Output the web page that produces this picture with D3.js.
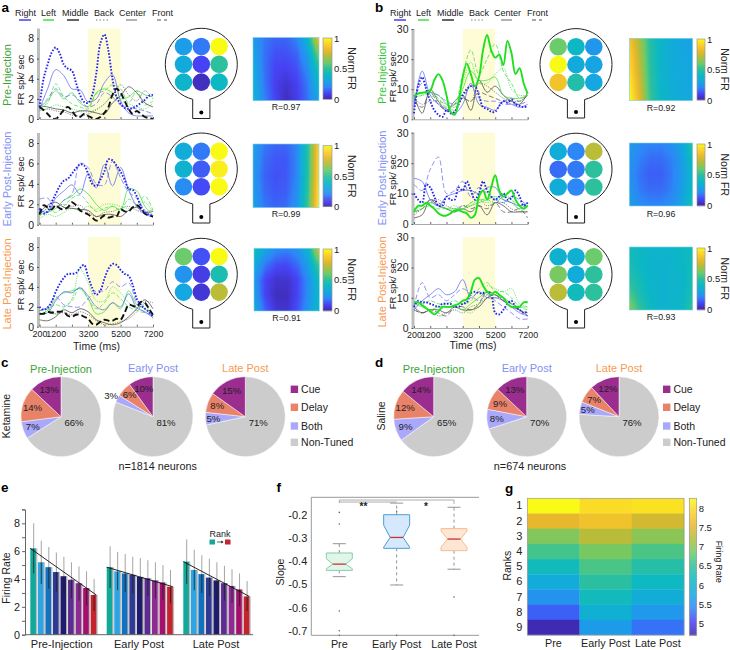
<!DOCTYPE html>
<html><head><meta charset="utf-8">
<script src="https://cdn.jsdelivr.net/npm/d3@7"></script>
<style>html,body{margin:0;padding:0;background:#fff}svg{display:block}text{font-family:"Liberation Sans",Arial,sans-serif;fill:#222}</style>
</head><body><svg id="c" width="730" height="650" viewBox="0 0 730 650"></svg>
<script>
// ---------- data ----------
const legendNames=["Right","Left","Middle","Back","Center","Front"];
const timeTicks=[200,1200,3200,5200,7200];
const shadeWindow=[3200,5200];
// a: ketamine traces
const a1BlueDot=[1.2,4.0,5.4,6.6,7.1,6.5,5.4,5.0,4.8,3.6,2.4,1.7,1.6,2.4,4.5,7.5,8.4,6.8,4.0,2.2,1.5,1.1,1.0,1.1,1.3,1.6,1.9,2.3,2.4];
const a1BlueThin=[1.0,3.0,4.9,4.3,3.0,2.9,1.7,2.0,3.6,4.4,1.8,0.6,0.3,0.3,0.3];
const a1BlueDash=[1.2,2.0,3.0,2.2,2.4,1.8,1.2,1.5,2.6,2.2,1.4,1.2,1.0,0.8,0.5];
const a1GreenThin=[1.2,1.8,2.8,2.0,2.6,1.6,1.2,2.6,3.0,2.6,2.0,2.2,2.8,2.4,2.2];
const a1GreenDash=[1.0,1.6,3.5,2.2,1.5,1.2,1.0,2.5,2.8,3.4,3.0,1.6,2.8,1.4,1.8];
const a1GreenDot=[0.9,1.0,1.4,1.2,1.0,0.8,0.7,1.0,1.5,2.4,1.8,1.5,1.2,1.0,1.6];
const a1BlackThick=[1.2,0.9,0.5,0.1,0,0.4,0.9,1.2,0.8,0.3,0.2,0.5,0.3,0.1,0,0.2,0.6,1.2,2.4,3.0,2.6,1.8,1.0,0.5,0.8,0.5,0.2,0.1,0];
const a1BlackThin=[1.3,1.2,1.0,0.9,0.6,0.8,0.8,0.6,0.5,1.6,2.3,3.2,2.6,1.6,1.2];
const a1GrayDot=[0.8,1.0,0.8,0.7,0.4,0.3,0.5,0.9,1.5,2.4,3.4,2.4,1.8,2.8,2.0];

const a2BlueDot=[1.6,1.1,1.3,2.2,3.0,3.8,4.3,4.5,5.0,5.5,5.9,5.8,5.0,4.0,3.8,4.4,5.2,6.4,6.3,5.8,5.2,4.4,3.5,3.4,2.8,1.8,1.2,1.0,0.9];
const a2BlueThin=[1.5,1.2,2.6,3.3,3.9,3.0,5.0,3.6,5.9,3.8,5.6,3.4,1.8,1.0,0.8];
const a2BlueDash=[2.5,2.6,1.6,2.4,3.0,6.0,5.6,4.0,3.9,6.2,4.6,3.2,2.6,1.4,0.7];
const a2GreenThin=[1.0,1.2,1.6,2.4,2.8,3.5,3.0,2.0,1.4,1.8,1.5,3.5,3.3,1.8,0.9];
const a2GreenDash=[0.8,1.6,1.2,1.8,2.6,2.9,2.1,1.3,1.6,1.8,1.4,2.5,2.0,2.8,1.4];
const a2GreenDot=[0.6,1.0,0.8,1.2,1.6,1.4,1.8,1.5,2.0,2.0,1.8,1.6,1.9,2.2,1.2];
const a2BlackThick=[1.0,1.9,1.7,1.5,1.9,1.6,1.5,1.7,2.2,1.9,1.4,1.2,1.0,0.7,0.4,0.6,0.9,0.7,0.8,0.8,1.5,1.3,1.3,1.7,1.9,1.6,1.1,0.9,0.8];
const a2BlackThin=[1.2,1.9,2.2,1.7,1.6,1.5,1.4,0.8,1.0,1.0,0.8,1.4,1.7,1.2,1.3];
const a2GrayDot=[1.0,1.6,1.8,2.0,1.8,1.9,1.2,0.8,1.2,1.3,1.6,1.8,1.4,1.2,1.5];

const a3BlueDot=[2.0,1.7,1.9,2.5,3.5,4.3,4.9,5.3,5.3,5.4,5.9,6.2,5.0,3.9,3.2,3.6,4.8,5.8,6.3,6.2,5.7,5.3,5.1,4.2,2.8,2.2,1.8,1.5,1.0];
const a3BlueThin=[1.3,1.4,2.6,3.5,3.4,3.9,3.1,2.0,1.7,2.4,2.0,3.3,1.9,1.5,0.9];
const a3BlueDash=[1.6,2.0,3.0,2.2,2.0,2.0,2.8,3.6,3.6,4.5,4.0,4.4,2.4,1.4,1.2];
const a3GreenThin=[1.2,1.6,2.8,3.4,3.6,3.8,2.8,1.3,1.5,2.4,1.8,3.6,2.2,1.8,1.0];
const a3GreenDash=[1.6,1.8,2.2,2.0,2.6,4.0,2.8,1.8,2.4,3.4,2.8,2.0,1.6,1.4,1.2];
const a3GreenDot=[1.0,1.6,1.2,1.9,2.8,5.8,4.4,2.6,2.6,4.0,3.4,2.4,1.8,2.2,0.8];
const a3BlackThick=[1.3,1.3,1.5,1.4,1.5,1.5,1.5,1.1,1.0,1.2,1.2,1.0,0.8,0.3,0.2,0.5,0.7,0.6,0.6,0.8,0.7,1.4,2.2,2.1,2.0,2.5,2.4,1.8,1.2];
const a3BlackThin=[0.7,0.6,1.0,1.7,1.4,1.8,1.5,0.7,0.4,0.2,0.4,1.0,1.8,2.7,1.8];
const a3GrayDot=[1.6,1.8,1.3,1.4,1.2,1.5,1.2,0.6,0.2,0.3,0.5,0.8,1.5,2.5,2.4];
// b: saline traces
const b1GreenThick=[7.5,8.5,8.8,9,9.5,13,15,13,8,2.5,1.5,6,14,18.5,15,11,14,23,28,23,20.5,21.5,18,26,22,15,17,12,8.5];
const b1BlueDot=[2,11,14,10,6,3,1.5,0.8,3,2,2.5,5,8,10,11,11,8,4,3.5,2.5,2.5,4.5,6,5.5,6.5,5,4.5,4,4.5];
const b1BlueThin=[4,16,8,5,3.5,2,5,12,5,4,3,6,5,4,5];
const b1BlueDash=[6,12,9,8,6,5,7,11,7,6,6,5,5,5,6];
const b1GreenThin=[8,9,9,8,5,3,10,16,13,13,14,8,7,7,8];
const b1GreenDash=[7,8,9,7,4,5,15,23,15,20,25,16,12,7,8];
const b1GreenDot=[7,8,8,6,4,5,12,19,12,12,15,17,10,8,8];
const b1BlackThin=[8,2,10,6,3,6,8,3,13,9,11,8,6,5,9];
const b1GrayDot=[7,5,6,6,5,4,7,6,12,11,9,7,6,6,8];
const b1BlackDash=[6,4,9,5,3,5,7,6,9,8,7,6,7,6,8];

const b2GreenThick=[4,6,6,7,6,5,3.5,2.8,2.8,3.5,4.5,4.5,4,3.5,2,3,9,11,8,12,16,11,9,10,11,8,6,5,6];
const b2BlueDot=[10,8,7,13,12,9,6,6,9,8,8,12,11,14,11,8,10,14,11,9,8,9,10,8,8.5,11,9,6,7];
const b2BlueThin=[15,14,8,6,9,10,11,11,10,12,12,8,7,6,7];
const b2BlueDash=[13,11,18,22,10,11,14,9,12,10,8,7,9,8,6];
const b2GreenThin=[5,6,7,6,5,5,5,6,7,8,9,8,7,5,7];
const b2GreenDash=[4,5,6,5,5,4,5,7,8,8,7,9,8,6,6];
const b2GreenDot=[5,5,7,6,5,6,5,7,8,7,8,10,8,5,6];
const b2BlackThin=[2,3,8,6,5,4,5,4,6,3,7,6,4,4,4];
const b2BlackDash=[4,5,8,7,5,4,6,5,6,5,7,4,4,5,2];
const b2GrayDot=[3,5,7,8,6,5,6,6,8,6,7,7,5,4,4];

const b3GreenThick=[8.5,8.5,7.5,6.5,5.5,4.5,5.5,7,7,7,7.5,8,9,9.5,12,16,16.5,14,12,11,12,11,10,8,7,7,7,8.5,8.5];
const b3BlueDot=[7,9,8.5,8.5,8,7.5,7,8,8,8,7,7,8,8.5,11.5,12,11.5,11.5,12,11,5,4.5,6,8,9,7,6,5,5.5];
const b3BlueThin=[6,9,11,13,11,12,16,10,12,10,10,9,7,5,4];
const b3BlueDash=[7,15,10,11,9,11,13,11,9,11,9,7,5,3,3];
const b3GreenThin=[8,7,6,7,7,7,6,8,10,12,11,10,8,7,7];
const b3GreenDash=[8,8,9,8,8,9,8,9,13,15,12,12,10,7,6];
const b3GreenDot=[9,8,6,6,7,7,6,5,8,14,13,12,13,8,7];
const b3BlackThin=[7,5,6,6,5,7,6,6,7,10,11,9,7,6,4];
const b3BlackDash=[6,5,6,5,4,7,7,6,8,12,11,9,8,6,4];
const b3GrayDot=[6,5,6,4,5,6,5,7,8,10,10,10,8,6,5];
// arena target firing (3x3, normalised)
const a1Targets=[.27,.18,1,.32,.1,.5,.38,.03,.4];
const a2Targets=[.33,.18,1,.36,.14,.97,.22,.11,1];
const a3Targets=[.6,.12,1,.24,.08,.45,.3,.06,.72];
const b1Targets=[.6,.4,.25,1,.32,.29,.85,.47,.3];
const b2Targets=[.33,.2,.72,.16,.18,.5,.33,.2,.5];
const b3Targets=[.36,.35,.6,.62,.33,.5,.72,.42,.5];
// fitted surfaces (5 rows x 7 cols)
const a1Surface=[.26,.18,.15,.15,.2,.38,.85, .29,.17,.12,.12,.15,.28,.62, .32,.17,.1,.09,.12,.22,.45, .34,.18,.09,.05,.09,.18,.36, .36,.2,.1,.03,.08,.17,.3];
const a2Surface=[.28,.18,.15,.15,.2,.48,.9, .26,.16,.13,.13,.2,.48,.92, .25,.15,.12,.13,.2,.48,.93, .26,.16,.13,.14,.22,.5,.95, .28,.18,.15,.16,.24,.52,.97];
const a3Surface=[.45,.3,.22,.2,.24,.38,.8, .33,.18,.12,.11,.16,.28,.55, .25,.1,.05,.05,.1,.22,.42, .27,.1,.03,.03,.1,.22,.38, .33,.15,.06,.05,.12,.25,.4];
const b1Surface=[.85,.67,.47,.38,.33,.3,.28, .9,.7,.48,.38,.33,.3,.29, .93,.72,.49,.38,.33,.31,.3, .97,.75,.5,.38,.34,.31,.3, 1,.78,.52,.39,.35,.32,.31];
const b2Surface=[.26,.22,.2,.2,.23,.3,.5, .24,.19,.16,.16,.19,.27,.42, .23,.17,.14,.14,.18,.26,.38, .25,.18,.16,.16,.19,.27,.4, .28,.22,.2,.2,.23,.3,.46];
const b3Surface=[.42,.4,.38,.38,.38,.4,.42, .44,.4,.37,.36,.37,.39,.43, .48,.42,.38,.36,.37,.38,.44, .55,.45,.39,.36,.37,.38,.46, .65,.5,.41,.37,.37,.39,.5];
// pies
const tuningLabels=["Cue","Delay","Both","Non-Tuned"];
const epochTitles=["Pre-Injection","Early Post","Late Post"];
const ketaminePies=[[13,14,7,66],[10,6,3,81],[15,8,5,71]];
const salinePies=[[14,12,9,65],[13,9,8,70],[12,7,5,76]];
// bars
const barEpochs=["Pre-Injection","Early Post","Late Post"];
const barMeans=[[6.2,5.2,4.85,4.5,4.2,3.95,3.7,3.35,2.85],[4.85,4.55,4.4,4.3,4.15,4.05,3.9,3.75,3.45],[5.25,4.65,4.35,4.1,3.9,3.7,3.5,3.25,2.75]];
const barHigh=[[8,6.75,6.3,5.9,5.6,5.2,4.9,4.55,4.0],[6.35,5.95,5.8,5.6,5.5,5.35,5.2,5.0,4.65],[6.85,6.1,5.7,5.45,5.2,4.95,4.7,4.4,3.85]];
const barLow=[[4.4,3.65,3.3,3.05,2.9,2.6,2.45,2.1,1.7],[3.35,3.2,3.05,2.95,2.85,2.75,2.6,2.5,2.25],[3.65,3.2,3.0,2.8,2.6,2.45,2.3,2.05,1.7]];
const rankColors=["#12a99b","#2ca5e2","#1272bf","#2f3a96","#1f1c6e","#5c2d91","#8e2b93","#a50f6e","#c5242f"];
// box plot (whiskLow,q1,notchLow,median,notchHigh,q3,whiskHigh)
const boxNames=["Pre","Early Post","Late Post"];
const boxStats=[[-.467,-.44,-.433,-.413,-.39,-.365,-.325],[-.503,-.345,-.34,-.298,-.245,-.2,-.15],[-.435,-.355,-.34,-.305,-.27,-.26,-.168]];
const boxOutliers=[[-.19,-.24,-.615,-.7,-.72],[-.185,-.72],[-.555,-.72]];
const boxFill=["#dff6e8","#d6e8fb","#fde6d4"];
const boxStroke=["#86cfa8","#4a9fd8","#f5bd93"];
// rank heatmap
const rankLabels=[1,2,3,4,5,6,7,8,9];
const rankPre=[8.25,7.55,6.95,6.6,6.2,5.85,5.55,5.2,4.75];
const rankEarly=[8.0,7.7,7.25,6.9,6.65,6.45,6.2,5.95,5.65];
const rankLate=[8.05,7.4,7.0,6.65,6.4,6.15,5.9,5.6,5.3];
const rankCbTicks=[5,5.5,6,6.5,7,7.5,8];
// colour map
const parulaStops=["#3e26a8","#4743f5","#2d87f7","#14a7e0","#0cb8c4","#2cc09d","#6ccb6b","#b0bd3b","#e8b82c","#fbd02c","#f9fb15"];
const parula=d3.scaleLinear().domain(d3.range(11).map(d=>d/10)).range(parulaStops).clamp(true);

// ---------- helpers ----------
const svg=d3.select("#c");
function txt(x,y,s,o={}){const t=svg.append("text").attr("x",x).attr("y",y).text(s)
  .attr("font-size",o.size||10.5).attr("text-anchor",o.anchor||"start");
  if(o.fill)t.style("fill",o.fill); if(o.bold)t.attr("font-weight","bold");
  if(o.rot!==undefined)t.attr("transform",`rotate(${o.rot} ${x} ${y})`);
  return t;}
const STY={
 blueDot:{c:"#2222ee",w:1.9,d:"1.6 1.6"},blueThin:{c:"#5a68f0",w:.75},blueDash:{c:"#6a6cf2",w:.75,d:"5 2.5"},
 greenThick:{c:"#1fe01f",w:1.9},greenThin:{c:"#3fe03f",w:.75},greenDash:{c:"#45de45",w:.75,d:"4 2"},greenDot:{c:"#4fe04f",w:.8,d:"1.2 1.2"},
 blackThick:{c:"#111",w:1.9,d:"6 3"},blackThin:{c:"#444",w:.75},blackDash:{c:"#555",w:.75,d:"5 2.5"},grayDot:{c:"#666",w:.75,d:"1.2 1.2"}};
const letters=[["a",1.5,12],["b",375,12],["c",1,367],["d",375,367],["e",1,492],["f",276.5,492],["g",505,493]];
letters.forEach(l=>txt(l[1],l[2],l[0],{size:13.5,bold:true,fill:"#000"}));

// legends
function legend(dx){
  const textX=[15,41,62,94,119,152], lx=[[19,31],[43,54],[67,79],[96,109],[126,137],[157,167]];
  const st=[{c:"#2222ee",w:1.3},{c:"#22dd22",w:1.3},{c:"#111",w:1.3},{c:"#777",w:.9,d:"1.5 2"},{c:"#666",w:1},{c:"#555",w:1,d:"4 3"}];
  legendNames.forEach((n,i)=>{
    txt(textX[i]+dx,16,n,{size:9});
    svg.append("line").attr("x1",lx[i][0]+dx).attr("x2",lx[i][1]+dx).attr("y1",20).attr("y2",20)
      .attr("stroke",st[i].c).attr("stroke-width",st[i].w).attr("stroke-dasharray",st[i].d||null);
  });
}
legend(0);legend(375);

// trace panel
function tracePanel(o){
  const x=d3.scaleLinear().domain([200,7200]).range([o.x0,o.x1]);
  const y=d3.scaleLinear().domain([0,o.ymax]).range([o.y0,o.y1]);
  const g=svg.append("g");
  g.append("rect").attr("x",x(shadeWindow[0])).attr("width",x(shadeWindow[1])-x(shadeWindow[0]))
    .attr("y",o.y1-(o.extra||0)).attr("height",o.y0-o.y1+(o.extra||0)).attr("fill","#fdfcd6");
  g.append("rect").attr("x",o.x0-2.5).attr("width",3).attr("y",o.y1-(o.extra||0)).attr("height",o.y0-o.y1+(o.extra||0)).attr("fill","#bdbdbd");
  const line=d3.line().curve(d3.curveCatmullRom.alpha(.5));
  o.series.forEach(([sty,vals])=>{
    const s=STY[sty];
    const pts=vals.map((v,i)=>[x(200+i*7000/(vals.length-1)),y(Math.max(0,v))]);
    g.append("path").attr("d",line(pts)).attr("fill","none").attr("stroke",s.c).attr("stroke-width",s.w)
      .attr("stroke-dasharray",s.d||null);
  });
  const ay=g.append("g").attr("transform",`translate(${o.x0-2.5},0)`).call(d3.axisLeft(y).tickValues(o.ticks).tickSize(-2).tickPadding(3));
  ay.select(".domain").remove();
  ay.selectAll("line").attr("stroke","#555");
  ay.selectAll("text").attr("font-size",10.5).attr("font-family",null);
  const ax=g.append("g").attr("transform",`translate(0,${o.y0})`).call(d3.axisBottom(x).tickValues(timeTicks.concat(d3.range(2200,7200,2000))).tickSize(-2).tickFormat(d=>d).tickPadding(4));
  ax.select(".domain").attr("stroke","#aaa").attr("stroke-width",1);
  ax.selectAll("line").attr("stroke","#666");
  ax.selectAll("text").attr("font-size",8.9).attr("font-family",null);
  ax.selectAll("text").filter(d=>!o.showX||!timeTicks.includes(d)).remove();
}
const aSeries=(bd,bt,bdh,gt,gdh,gdt,kd,kt,gy)=>[["grayDot",gy],["greenDot",gdt],["greenDash",gdh],["greenThin",gt],["blackThin",kt],["blueDash",bdh],["blueThin",bt],["blackThick",kd],["blueDot",bd]];
const bSeries=(gth,bd,bt,bdh,gt,gdh,gdt,kt,kd,gy)=>[["grayDot",gy],["blackDash",kd],["blackThin",kt],["greenDot",gdt],["greenDash",gdh],["greenThin",gt],["blueDash",bdh],["blueThin",bt],["blueDot",bd],["greenThick",gth]];
const aTicks=[0,2,4,6,8], bTicks=[0,10,20,30];
tracePanel({x0:39.5,x1:153,y0:119,y1:38.5,ymax:8,extra:10,ticks:aTicks,series:aSeries(a1BlueDot,a1BlueThin,a1BlueDash,a1GreenThin,a1GreenDash,a1GreenDot,a1BlackThick,a1BlackThin,a1GrayDot)});
tracePanel({x0:39.5,x1:153,y0:224.7,y1:143,ymax:8,extra:10,ticks:aTicks,series:aSeries(a2BlueDot,a2BlueThin,a2BlueDash,a2GreenThin,a2GreenDash,a2GreenDot,a2BlackThick,a2BlackThin,a2GrayDot)});
tracePanel({x0:39.5,x1:153,y0:326.7,y1:247,ymax:8,extra:10,ticks:aTicks,showX:true,series:aSeries(a3BlueDot,a3BlueThin,a3BlueDash,a3GreenThin,a3GreenDash,a3GreenDot,a3BlackThick,a3BlackThin,a3GrayDot)});
tracePanel({x0:414,x1:527.7,y0:119.3,y1:29,ymax:30,ticks:bTicks,series:bSeries(b1GreenThick,b1BlueDot,b1BlueThin,b1BlueDash,b1GreenThin,b1GreenDash,b1GreenDot,b1BlackThin,b1BlackDash,b1GrayDot)});
tracePanel({x0:414,x1:527.7,y0:224,y1:132.7,ymax:30,ticks:bTicks,series:bSeries(b2GreenThick,b2BlueDot,b2BlueThin,b2BlueDash,b2GreenThin,b2GreenDash,b2GreenDot,b2BlackThin,b2BlackDash,b2GrayDot)});
tracePanel({x0:414,x1:527.7,y0:328,y1:237.3,ymax:30,ticks:bTicks,showX:true,series:bSeries(b3GreenThick,b3BlueDot,b3BlueThin,b3BlueDash,b3GreenThin,b3GreenDash,b3GreenDot,b3BlackThin,b3BlackDash,b3GrayDot)});
// panel labels
const GR="#3aa535",GR2="#35c935",BL="#7f90f5",OR="#f79a50";
[[11,75,"Pre-Injection",GR],[11,179,"Early Post-Injection",BL],[11,284,"Late Post-Injection",OR],[385.5,73,"Pre-Injection",GR2],[385.5,178,"Early Post-Injection",BL],[385.5,282,"Late Post-Injection",OR]]
 .forEach(d=>txt(d[0],d[1],d[2],{size:11,anchor:"middle",rot:-90,fill:d[3]}));
[[24,80],[24,182],[24,285],[395.5,77],[395.5,180],[395.5,284]].forEach(d=>txt(d[0],d[1],"FR spk/ sec",{size:9.6,anchor:"middle",rot:-90}));
txt(96.5,349.5,"Time (ms)",{size:10.5,anchor:"middle"});
txt(473,349,"Time (ms)",{size:10.5,anchor:"middle"});

// arenas
function arena(cx,cy,vals,bottom){
  const r=36,nw=8.6,a=Math.asin(nw/r),sy=cy+r*Math.cos(a);
  const p=d3.path();
  p.moveTo(cx-nw,sy);p.arc(cx,cy,r,Math.PI/2+a,Math.PI/2-a+2*Math.PI);
  p.lineTo(cx+nw,bottom);p.lineTo(cx-nw,bottom);p.closePath();
  svg.append("path").attr("d",p.toString()).attr("fill","#fff").attr("stroke","#222").attr("stroke-width",1);
  const gx=d3.scalePoint().domain([0,1,2]).range([cx-17.8,cx+17.8]);
  svg.append("g").selectAll("circle").data(vals).join("circle")
    .attr("cx",(d,i)=>gx(i%3)).attr("cy",(d,i)=>cy+gx(Math.floor(i/3))-cx).attr("r",8.8).attr("fill",d=>parula(d));
  svg.append("circle").attr("cx",cx).attr("cy",bottom-6).attr("r",2).attr("fill","#000");
}
arena(201.3,64.3,a1Targets,118.5);arena(201.3,169,a2Targets,223);arena(201.3,274.3,a3Targets,328);
arena(576,64.6,b1Targets,118);arena(576,169.2,b2Targets,223);arena(576,274.5,b3Targets,328);

// surfaces
function surface(xx,yy,w,h,vals){
  const cv=document.createElement("canvas");cv.width=Math.round(w);cv.height=Math.round(h);
  const c=cv.getContext("2d");
  const lerp=(a,b,t)=>a+(b-a)*t;
  for(let j=0;j<cv.height;j++)for(let i=0;i<cv.width;i++){
    const u=i/(cv.width-1)*6,v=j/(cv.height-1)*4,u0=Math.min(5,Math.floor(u)),v0=Math.min(3,Math.floor(v)),fu=u-u0,fv=v-v0;
    const at=(r,q)=>vals[r*7+q];
    const val=lerp(lerp(at(v0,u0),at(v0,u0+1),fu),lerp(at(v0+1,u0),at(v0+1,u0+1),fu),fv);
    c.fillStyle=parula(val);c.fillRect(i,j,1,1);
  }
  svg.append("image").attr("href",cv.toDataURL()).attr("x",xx).attr("y",yy).attr("width",w).attr("height",h).attr("preserveAspectRatio","none");
}
function colorbar(x0,x1,y0,y1,dom,ticks,fmt,colorOf,size){
  const g=svg.append("g");
  const y=d3.scaleLinear().domain(dom).range([y1,y0]);
  const n=Math.round(y1-y0);
  g.selectAll("rect").data(d3.range(n)).join("rect").attr("x",x0).attr("width",x1-x0).attr("y",d=>y0+d).attr("height",1.2)
    .attr("fill",d=>colorOf(y.invert(y0+d+.5)));
  g.append("rect").attr("x",x0).attr("y",y0).attr("width",x1-x0).attr("height",y1-y0).attr("fill","none").attr("stroke","#999").attr("stroke-width",.7);
  const a=svg.append("g").attr("transform",`translate(${x1},0)`).call(d3.axisRight(y).tickValues(ticks).tickSize(0).tickPadding(2).tickFormat(fmt));
  a.select(".domain").remove();a.selectAll("text").attr("font-size",size).attr("font-family",null);
}
const normMaps=[[253,319,37.5,100.7,a1Surface,107,38,99.3],[253,319,144,207.7,a2Surface,214,145.7,206.7],[254,319.3,248.3,311,a3Surface,318,249,310.7],
 [629.3,692.7,38.3,100.7,b1Surface,108,39,100],[629.3,692.7,143,206,b2Surface,214,144,205.5],[629.3,692.7,247,310,b3Surface,317,248,309.5]];
const rVals=["R=0.97","R=0.99","R=0.91","R=0.92","R=0.96","R=0.93"];
normMaps.forEach((m,i)=>{
  surface(m[0],m[2],m[1]-m[0],m[3]-m[2],m[4]);
  svg.append("rect").attr("x",m[0]).attr("y",m[2]).attr("width",m[1]-m[0]).attr("height",m[3]-m[2]).attr("fill","none").attr("stroke","#7fd0e8").attr("stroke-width",.6);
  const left=i<3;
  const bx=left?323:697, bw=left?9:8;
  colorbar(bx,bx+bw,m[6],m[7],[0,1],[0,.5,1],d=>d,parula,9.5);
  txt((m[0]+m[1])/2,m[5]+3,rVals[i],{size:8.8,anchor:"middle"});
  const lx=left?348:720.5;
  txt(lx,(m[6]+m[7])/2,"Norm FR",{size:10.5,anchor:"middle",rot:90});
});

// pies
const tuningColors=["#9a2d8e","#e8836a","#a9a8fb","#cccccc"];
function pieGroup(cxs,cy,data,titleColors,tOff){
  const pie=d3.pie().sort(null);
  const arc=d3.arc().innerRadius(0).outerRadius(40);
  data.forEach((vals,k)=>{
    const g=svg.append("g").attr("transform",`translate(${cxs[k]},${cy})`);
    const arcs=pie(vals.slice().reverse()); // clockwise: non-tuned first
    const rev=[3,2,1,0];
    arcs.forEach((a,i)=>{
      g.append("path").attr("d",arc(a)).attr("fill",tuningColors[rev[i]]).attr("stroke","#fff").attr("stroke-width",.5);
      const ti=rev[i],mid=(a.startAngle+a.endAngle)/2;
      let lx,ly;
      if(ti===3){lx=13;ly=9.5;}
      else{const rr=vals[ti]<=3?47:(vals[ti]<=6?32:30);lx=Math.sin(mid)*rr;ly=-Math.cos(mid)*rr+3.5;}
      g.append("text").attr("x",lx).attr("y",ly).attr("text-anchor","middle").attr("font-size",9.6).text(vals[ti]+"%");
    });
    txt(cxs[k],cy-tOff[k],epochTitles[k],{size:11,anchor:"middle",fill:titleColors[k]});
  });
}
pieGroup([61,153,245.3],416.7,ketaminePies,[GR,BL,OR],[44,45,45]);
pieGroup([433.7,526.7,619],416.7,salinePies,[GR,BL,OR],[44,44.7,44.7]);
[290.7,663].forEach(lx=>{
  [389.3,407.3,426,442.3].forEach((yy,i)=>{
    svg.append("rect").attr("x",lx).attr("y",yy-3.7).attr("width",7.4).attr("height",7.4).attr("fill",tuningColors[i]);
    txt(lx+10.4,yy+3.7,tuningLabels[i],{size:10.5});
  });
});
txt(9.5,416,"Ketamine",{size:10.5,anchor:"middle",rot:-90});
txt(385,416,"Saline",{size:10.5,anchor:"middle",rot:-90});
txt(157.7,470,"n=1814 neurons",{size:10.8,anchor:"middle"});
txt(530,470,"n=674 neurons",{size:10.8,anchor:"middle"});

// bars (e)
(function(){
  const y=d3.scaleLinear().domain([0,8]).range([634.7,523.3]);
  const starts=[30.3,106.7,183.3],step=7.55,bw=5.6;
  const x=d3.scaleLinear().domain([0,1]).range([0,step]);
  const g=svg.append("g");
  barMeans.forEach((vals,k)=>{
    vals.forEach((v,i)=>{
      const bx=starts[k]+x(i);
      g.append("rect").attr("x",bx+bw-1).attr("width",2.4).attr("y",y(v)).attr("height",y(0)-y(v)).attr("fill","#bbb");
      g.append("rect").attr("x",bx).attr("width",bw).attr("y",y(v)).attr("height",y(0)-y(v)).attr("fill",rankColors[i]);
      g.append("line").attr("x1",bx+bw/2+.6).attr("x2",bx+bw/2+.6).attr("y1",y(barHigh[k][i])).attr("y2",y(v)).attr("stroke","#9a9a9a").attr("stroke-width",.9);
      g.append("line").attr("x1",bx+bw/2+.6).attr("x2",bx+bw/2+.6).attr("y1",y(v)).attr("y2",y(barLow[k][i])).attr("stroke","#222").attr("stroke-width",.8);
    });
    g.append("line").attr("x1",starts[k]).attr("x2",starts[k]+x(8)+bw).attr("y1",y(vals[0])).attr("y2",y(vals[8])).attr("stroke","#111").attr("stroke-width",.9);
    txt([61.7,139,216][k],648,barEpochs[k],{size:11,anchor:"middle"});
  });
  const a=svg.append("g").attr("transform","translate(25,0)").call(d3.axisLeft(d3.scaleLinear().domain([0,9]).range([y(0),y(9)])).tickValues(d3.range(0,10)).tickSize(3).tickFormat(d=>d%2==0?d:"").tickPadding(2));
  a.select(".domain").attr("stroke","#666");a.selectAll("line").attr("stroke","#666");a.selectAll("text").attr("font-size",10.8).attr("font-family",null);
  a.selectAll("text").filter(d=>d%2!=0).remove();
  g.append("line").attr("x1",25).attr("x2",253).attr("y1",y(0)).attr("y2",y(0)).attr("stroke","#666").attr("stroke-width",1);
  txt(9.5,578,"Firing Rate",{size:10.5,anchor:"middle",rot:-90});
  txt(220,537,"Rank",{size:9,anchor:"middle"});
  g.append("rect").attr("x",209.5).attr("y",539.5).attr("width",5.5).attr("height",5).attr("fill",rankColors[0]);
  g.append("rect").attr("x",225).attr("y",539.5).attr("width",5.5).attr("height",5).attr("fill",rankColors[8]);
  g.append("line").attr("x1",217).attr("x2",223).attr("y1",542).attr("y2",542).attr("stroke","#222").attr("stroke-width",.7);
  g.append("path").attr("d","M223.5 542l-2.2-1.4v2.8z").attr("fill","#222");
})();

// box (f)
(function(){
  const y=d3.scaleLinear().domain([-.2,-.7]).range([514.7,630.7]);
  const x=d3.scalePoint().domain(boxNames).range([339.3,454]);
  const g=svg.append("g");
  g.append("path").attr("d","M311.3 497.3H479M311.3 497.3V635.3H479").attr("fill","none").attr("stroke","#999").attr("stroke-width",1);
  const a=svg.append("g").attr("transform","translate(311.3,0)").call(d3.axisLeft(y).tickValues([-.2,-.3,-.4,-.5,-.6,-.7]).tickSize(0).tickPadding(4));
  a.select(".domain").remove();a.selectAll("text").attr("font-size",11).attr("font-family",null).text(d=>d.toFixed(1));
  boxStats.forEach((s,i)=>{
    const c=x(boxNames[i]),hw=13,nw=6.5;
    const [wl,q1,nl,m,nh,q3,wh]=s;
    g.append("line").attr("x1",c).attr("x2",c).attr("y1",y(q3)).attr("y2",y(wh)).attr("stroke","#777").attr("stroke-width",.8).attr("stroke-dasharray","3 3");
    g.append("line").attr("x1",c).attr("x2",c).attr("y1",y(q1)).attr("y2",y(wl)).attr("stroke","#777").attr("stroke-width",.8).attr("stroke-dasharray","3 3");
    [wl,wh].forEach(v=>g.append("line").attr("x1",c-6.5).attr("x2",c+6.5).attr("y1",y(v)).attr("y2",y(v)).attr("stroke","#666").attr("stroke-width",.7));
    const pts=[[c-hw,y(q3)],[c+hw,y(q3)],[c+hw,y(nh)],[c+nw,y(m)],[c+hw,y(nl)],[c+hw,y(q1)],[c-hw,y(q1)],[c-hw,y(nl)],[c-nw,y(m)],[c-hw,y(nh)]];
    g.append("path").attr("d",d3.line()(pts)+"Z").attr("fill",boxFill[i]).attr("stroke",boxStroke[i]).attr("stroke-width",1);
    g.append("line").attr("x1",c-nw).attr("x2",c+nw).attr("y1",y(m)).attr("y2",y(m)).attr("stroke","#c8323c").attr("stroke-width",1.3);
    boxOutliers[i].forEach(v=>g.append("circle").attr("cx",c).attr("cy",y(v)).attr("r",.8).attr("fill","#666"));
    txt(c,648,boxNames[i],{size:10.8,anchor:"middle"});
  });
  g.append("path").attr("d","M339.3 503V500H454V504M339.3 502H396.7").attr("fill","none").attr("stroke","#999").attr("stroke-width",.8);
  txt(363.5,509.5,"**",{size:10,anchor:"middle",bold:true});
  txt(426,509.5,"*",{size:10,anchor:"middle",bold:true});
  txt(284,572,"Slope",{size:10.5,anchor:"middle",rot:-90});
})();

// rank heatmap (g)
(function(){
  const x=d3.scaleBand().domain(boxNames).range([527.3,684]);
  const y=d3.scaleBand().domain(rankLabels).range([498.3,635]);
  const dom=[4.7,8.26];
  const col=v=>parula((v-dom[0])/(dom[1]-dom[0]));
  const g=svg.append("g");
  [rankPre,rankEarly,rankLate].forEach((vals,k)=>{
    g.selectAll(null).data(vals).join("rect").attr("x",x(boxNames[k])).attr("width",x.bandwidth()+.3)
      .attr("y",(d,i)=>y(rankLabels[i])).attr("height",y.bandwidth()+.3).attr("fill",d=>col(d));
  });
  g.append("rect").attr("x",527.3).attr("y",498.3).attr("width",156.7).attr("height",136.7).attr("fill","none").attr("stroke","#999").attr("stroke-width",.7);
  const ay=svg.append("g").attr("transform","translate(527.3,0)").call(d3.axisLeft(y).tickSize(0).tickPadding(5));
  ay.select(".domain").remove();ay.selectAll("text").attr("font-size",11).attr("font-family",null);
  const ax=svg.append("g").attr("transform","translate(0,635)").call(d3.axisBottom(x).tickSize(0).tickPadding(4));
  ax.select(".domain").remove();ax.selectAll("text").attr("font-size",10.8).attr("font-family",null);
  colorbar(689.3,696.7,498.3,635,dom,rankCbTicks,d=>d,col,9.5);
  txt(716,561.7,"Firing Rate",{size:8.6,anchor:"middle",rot:90});
  txt(511,565.7,"Ranks",{size:10.5,anchor:"middle",rot:-90});
})();
</script></body></html>
